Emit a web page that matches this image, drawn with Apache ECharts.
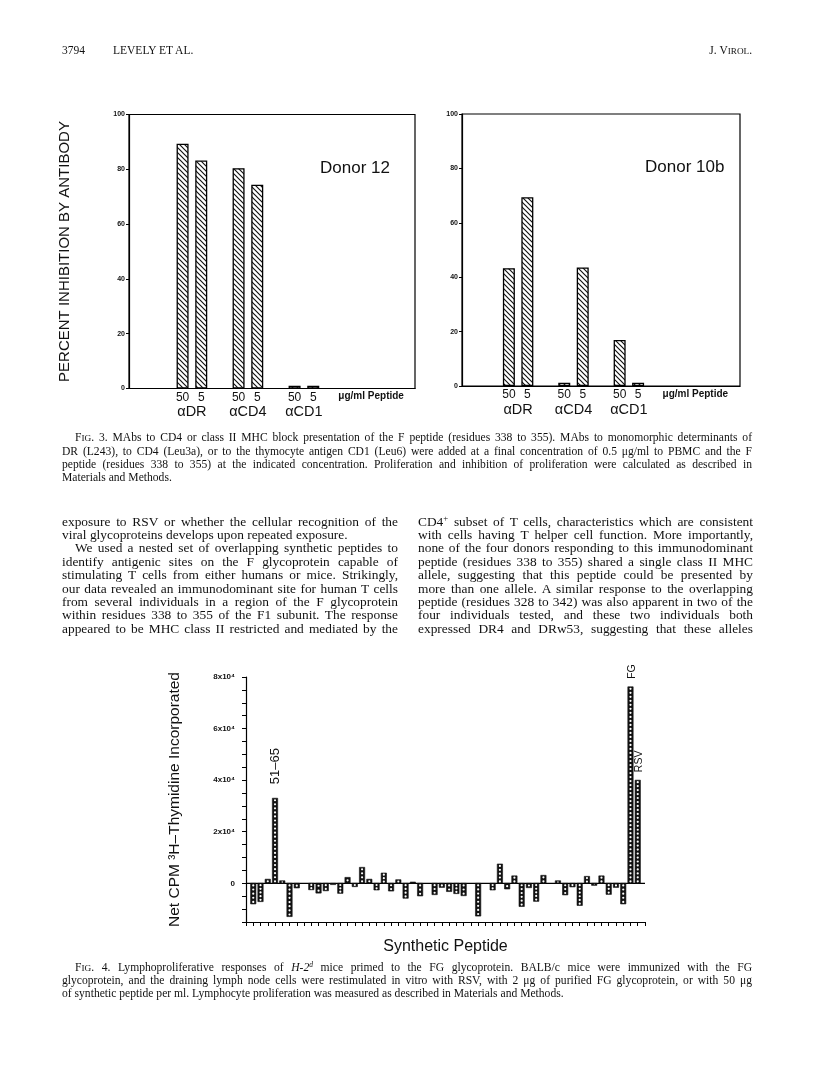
<!DOCTYPE html>
<html><head><meta charset="utf-8">
<script src="https://cdn.jsdelivr.net/npm/echarts@6/dist/echarts.min.js"></script>
<style>
html,body{margin:0;padding:0;background:#fff;}
#page{position:relative;width:816px;height:1076px;overflow:hidden;background:#fff;}
#chart{position:absolute;left:0;top:0;width:816px;height:1076px;}
.t{position:absolute;font-family:"Liberation Serif","Times New Roman",serif;color:#111;white-space:nowrap;}
.sc{font-size:0.8em;}
.sp{font-size:0.65em;position:relative;top:-0.55em;line-height:0;vertical-align:baseline;}
</style></head>
<body><div id="page"><div id="chart"></div></div>
<script>
// ---------------- DATA ----------------
// Fig. 3 (percent inhibition by antibody), order: αDR 50, αDR 5, αCD4 50, αCD4 5, αCD1 50, αCD1 5
const fig3Antibodies = ['αDR', 'αCD4', 'αCD1'];
const fig3Doses = ['50', '5'];
const fig3DoseUnit = 'μg/ml Peptide';
const donor12Inhibition = [89.3, 83.2, 80.4, 74.4, 1.0, 1.0];
const donor10bInhibition = [43.3, 69.4, 1.2, 43.6, 16.9, 1.2];
const fig3Panels = ['Donor 12', 'Donor 10b'];
const fig3YTicks = [0, 20, 40, 60, 80, 100];
const fig3YTitle = 'PERCENT INHIBITION BY ANTIBODY';

// Fig. 4 (net CPM per synthetic peptide, last two = FG glycoprotein and RSV)
const fig4Cpm = [
  -8000, -7100, 1600, 33000, 1000, -12900, -1800, 0, -2500, -3800,
  -2900, -500, -3900, 2300, -1300, 6200, 1600, -2600, 4000, -3000,
  1400, -5800, 500, -4900, 0, -4400, -1600, -3200, -4000, -4800,
  300, -12700, 0, -2600, 7500, -2200, 2900, -9000, -1700, -7000,
  3100, 0, 1000, -4500, -1400, -8600, 2700, -800, 2900, -4300,
  -1600, -8000, 76200, 40000
];
const fig4BarLabels = {3: '51–65', 52: 'FG', 53: 'RSV'};
const fig4YTickLabels = {0: '0', 20000: '2x10⁴', 40000: '4x10⁴', 60000: '6x10⁴', 80000: '8x10⁴'};
const fig4YTitle = 'Net CPM ³H–Thymidine Incorporated';
const fig4XTitle = 'Synthetic Peptide';

// ---------------- PAGE TEXT ----------------
const headerLeftNum = '3794';
const headerAuthors = 'LEVELY ET AL.';
const headerJournal = 'J. V<span class="sc">IROL</span>.';
const fig3Caption = [
  'F<span class="sc">IG</span>. 3. MAbs to CD4 or class II MHC block presentation of the F peptide (residues 338 to 355). MAbs to monomorphic determinants of',
  'DR (L243), to CD4 (Leu3a), or to the thymocyte antigen CD1 (Leu6) were added at a final concentration of 0.5 μg/ml to PBMC and the F',
  'peptide (residues 338 to 355) at the indicated concentration. Proliferation and inhibition of proliferation were calculated as described in',
  'Materials and Methods.'
];
const bodyLeft = [
  'exposure to RSV or whether the cellular recognition of the',
  'viral glycoproteins develops upon repeated exposure.',
  'We used a nested set of overlapping synthetic peptides to',
  'identify antigenic sites on the F glycoprotein capable of',
  'stimulating T cells from either humans or mice. Strikingly,',
  'our data revealed an immunodominant site for human T cells',
  'from several individuals in a region of the F glycoprotein',
  'within residues 338 to 355 of the F1 subunit. The response',
  'appeared to be MHC class II restricted and mediated by the'
];
const bodyRight = [
  'CD4<span class="sp">+</span> subset of T cells, characteristics which are consistent',
  'with cells having T helper cell function. More importantly,',
  'none of the four donors responding to this immunodominant',
  'peptide (residues 338 to 355) shared a single class II MHC',
  'allele, suggesting that this peptide could be presented by',
  'more than one allele. A similar response to the overlapping',
  'peptide (residues 328 to 342) was also apparent in two of the',
  'four individuals tested, and these two individuals both',
  'expressed DR4 and DRw53, suggesting that these alleles'
];
const fig4Caption = [
  'F<span class="sc">IG</span>. 4. Lymphoproliferative responses of <i>H-2<span class="sp">d</span></i> mice primed to the FG glycoprotein. BALB/c mice were immunized with the FG',
  'glycoprotein, and the draining lymph node cells were restimulated in vitro with RSV, with 2 μg of purified FG glycoprotein, or with 50 μg',
  'of synthetic peptide per ml. Lymphocyte proliferation was measured as described in Materials and Methods.'
];

// ---------------- TEXT LAYOUT ----------------
const page = document.getElementById('page');
function addLine(html, left, width, cy, size, justify, align) {
  const d = document.createElement('div');
  d.className = 't';
  d.style.fontSize = size + 'px';
  d.style.lineHeight = (size * 1.2) + 'px';
  d.style.top = (cy - size * 0.62) + 'px';
  d.innerHTML = html;
  page.appendChild(d);
  const w = d.getBoundingClientRect().width;
  if (align === 'right') d.style.left = (left + width - w) + 'px';
  else d.style.left = left + 'px';
  if (justify) {
    const spaces = (d.textContent.match(/ /g) || []).length;
    if (spaces) d.style.wordSpacing = ((width - w) / spaces) + 'px';
  }
}
addLine(headerLeftNum, 62, 40, 51, 11.5, false);
addLine(headerAuthors, 113, 120, 51, 11.5, false);
addLine(headerJournal, 600, 152, 51, 11.5, false, 'right');

fig3Caption.forEach((l, i) => {
  const ind = i === 0 ? 13 : 0;
  addLine(l, 62 + ind, 690 - ind, 438.5 + i * 13.3, 11.6, i < fig3Caption.length - 1);
});
bodyLeft.forEach((l, i) => {
  const ind = i === 2 ? 13 : 0;
  addLine(l, 62 + ind, 336 - ind, 522 + i * 13.4, 13.4, i !== 1);
});
bodyRight.forEach((l, i) => {
  addLine(l, 418, 335, 522 + i * 13.4, 13.4, true);
});
fig4Caption.forEach((l, i) => {
  const ind = i === 0 ? 13 : 0;
  addLine(l, 62 + ind, 690 - ind, 968 + i * 13.1, 11.6, i < fig4Caption.length - 1);
});

// ---------------- CHART ----------------
const FONT = 'Liberation Sans';
function slotX(i) { return Math.floor(i / 2) * 3 + (i % 2); }
const dosePositions = [];
const doseLabelMap = {};
fig3Antibodies.forEach((a, gi) => fig3Doses.forEach((d, di) => {
  const x = gi * 3 + di; dosePositions.push(x); doseLabelMap[x] = d;
}));
const unitPos = 10.1;
dosePositions.push(unitPos);
doseLabelMap[unitPos] = '{u|' + fig3DoseUnit + '}';
const groupPositions = fig3Antibodies.map((a, gi) => gi * 3 + 0.5);
const groupLabelMap = {};
fig3Antibodies.forEach((a, gi) => { groupLabelMap[gi * 3 + 0.5] = a; });

function makeHatch() {
  const s = 5; const c = document.createElement('canvas'); c.width = s; c.height = s;
  const g = c.getContext('2d'); g.fillStyle = '#fff'; g.fillRect(0, 0, s, s);
  g.strokeStyle = '#111'; g.lineWidth = 1.15; g.beginPath();
  g.moveTo(-1, -1); g.lineTo(s + 1, s + 1);
  g.moveTo(-1, s - 1); g.lineTo(1, s + 1);
  g.moveTo(s - 1, -1); g.lineTo(s + 1, 1);
  g.stroke(); return c;
}
const hatch = makeHatch();

function fig3XAxes(gridIndex, min, max) {
  return [
    { type: 'value', gridIndex, min, max, position: 'bottom',
      axisLine: {show: true, onZero: false, lineStyle: {color: '#000', width: 1.2}},
      axisTick: {show: false}, splitLine: {show: false},
      axisLabel: {show: true, customValues: dosePositions, formatter: v => doseLabelMap[v] || '',
        margin: 3, color: '#111', fontFamily: FONT, fontSize: 12,
        rich: {u: {fontSize: 10, fontWeight: 'bold', fontFamily: FONT, color: '#111'}}} },
    { type: 'value', gridIndex, min, max, position: 'bottom',
      axisLine: {show: false, onZero: false}, axisTick: {show: false}, splitLine: {show: false},
      axisLabel: {show: true, customValues: groupPositions, formatter: v => groupLabelMap[v] || '',
        margin: 16, color: '#111', fontFamily: FONT, fontSize: 14.5} }
  ];
}
function fig3YAxis(gridIndex, title) {
  return { type: 'value', gridIndex, min: 0, max: 100, interval: 20,
    axisLine: {show: true, onZero: false, lineStyle: {color: '#000', width: 1.2}},
    axisTick: {show: true, length: 3, lineStyle: {color: '#000', width: 1}},
    splitLine: {show: false},
    axisLabel: {margin: 4, fontSize: 7, fontWeight: 'bold', color: '#111', fontFamily: FONT,
      formatter: v => fig3YTicks.includes(v) ? String(v) : ''},
    name: title, nameLocation: 'middle', nameGap: 57,
    nameTextStyle: {fontSize: 15, color: '#111', fontFamily: FONT} };
}
function fig3Series(xi, yi, values) {
  return { type: 'bar', xAxisIndex: xi, yAxisIndex: yi, silent: true, barWidth: 12,
    data: values.map((v, i) => [slotX(i), v]),
    itemStyle: {color: {image: hatch, repeat: 'repeat'}, borderColor: '#000', borderWidth: 1.3} };
}

function renderPeptideBar(params, api) {
  const x = api.value(0), v = api.value(1);
  const base = api.coord([x, 0]);
  const top = api.coord([x, v]);
  const w = api.size([1, 0])[0] * 0.74;
  const y0 = Math.min(base[1], top[1]);
  const h = Math.abs(base[1] - top[1]);
  const children = [];
  if (h >= 0.8) {
    children.push({type: 'rect', shape: {x: base[0] - w / 2, y: y0, width: w, height: h},
      style: {fill: '#111', stroke: '#111', lineWidth: 0.6}});
    const n = Math.max(1, Math.round(h / 4));
    const step = h / n;
    const r = Math.min(1.1, step / 2 - 0.55);
    if (r > 0.35) {
      for (let i = 0; i < n; i++) {
        children.push({type: 'circle', shape: {cx: base[0], cy: y0 + step * (i + 0.5), r},
          style: {fill: '#fff'}});
      }
    }
  }
  const lab = fig4BarLabels[params.dataIndex];
  if (lab) {
    const big = lab.length > 3;
    children.push({type: 'text', x: base[0] + (big ? 0 : 1.5), y: top[1] - (big ? 14 : 8), rotation: Math.PI / 2,
      style: {text: lab, x: 0, y: 0, align: 'left', verticalAlign: 'middle',
        font: (big ? 13 : 10.5) + 'px "Liberation Sans"', fill: '#111'}});
  }
  return {type: 'group', children};
}
const fig4XMin = -1, fig4XMax = 54;

const chart = echarts.init(document.getElementById('chart'), null, {renderer: 'canvas', width: 816, height: 1076});
chart.setOption({
  animation: false,
  backgroundColor: 'transparent',
  grid: [
    {left: 129, top: 114.5, width: 286, height: 274, show: true, borderColor: '#000', borderWidth: 1.2, containLabel: false},
    {left: 462, top: 114, width: 278, height: 272, show: true, borderColor: '#000', borderWidth: 1.2, containLabel: false},
    {left: 246, top: 677, width: 399, height: 245, show: false, containLabel: false}
  ],
  xAxis: [
    ...fig3XAxes(0, -2.87, 12.45),
    ...fig3XAxes(1, -2.54, 12.52),
    { type: 'value', gridIndex: 2, min: fig4XMin, max: fig4XMax, interval: 1, position: 'bottom',
      axisLine: {show: true, onZero: false, lineStyle: {color: '#000', width: 1.2}},
      axisTick: {show: true, length: 4, lineStyle: {color: '#000', width: 1}},
      axisLabel: {show: false}, splitLine: {show: false},
      name: fig4XTitle, nameLocation: 'middle', nameGap: 17,
      nameTextStyle: {fontSize: 16, color: '#111', fontFamily: FONT} }
  ],
  yAxis: [
    fig3YAxis(0, fig3YTitle),
    fig3YAxis(1, ''),
    { type: 'value', gridIndex: 2, min: -15000, max: 80000, interval: 5000,
      axisLine: {show: true, onZero: false, lineStyle: {color: '#000', width: 1.2}},
      axisTick: {show: true, length: 4, lineStyle: {color: '#000', width: 1}},
      splitLine: {show: false},
      axisLabel: {margin: 11, fontSize: 8, fontWeight: 'bold', color: '#111', fontFamily: FONT,
        formatter: v => fig4YTickLabels[v] !== undefined ? fig4YTickLabels[v] : ''},
      name: fig4YTitle, nameLocation: 'middle', nameGap: 63,
      nameTextStyle: {fontSize: 15.5, color: '#111', fontFamily: FONT} }
  ],
  graphic: [
    {type: 'text', left: 320, top: 160, style: {text: fig3Panels[0], font: '17px "Liberation Sans"', fill: '#111'}},
    {type: 'text', left: 645, top: 159, style: {text: fig3Panels[1], font: '17px "Liberation Sans"', fill: '#111'}}
  ],
  series: [
    fig3Series(0, 0, donor12Inhibition),
    fig3Series(2, 1, donor10bInhibition),
    { type: 'line', xAxisIndex: 4, yAxisIndex: 2, silent: true, symbol: 'none',
      data: [[fig4XMin, 0], [fig4XMax, 0]], lineStyle: {color: '#000', width: 1.2}, z: 1 },
    { type: 'custom', xAxisIndex: 4, yAxisIndex: 2, silent: true, z: 3,
      data: fig4Cpm.map((v, i) => [i, v]), renderItem: renderPeptideBar }
  ]
});
</script>
</body></html>
